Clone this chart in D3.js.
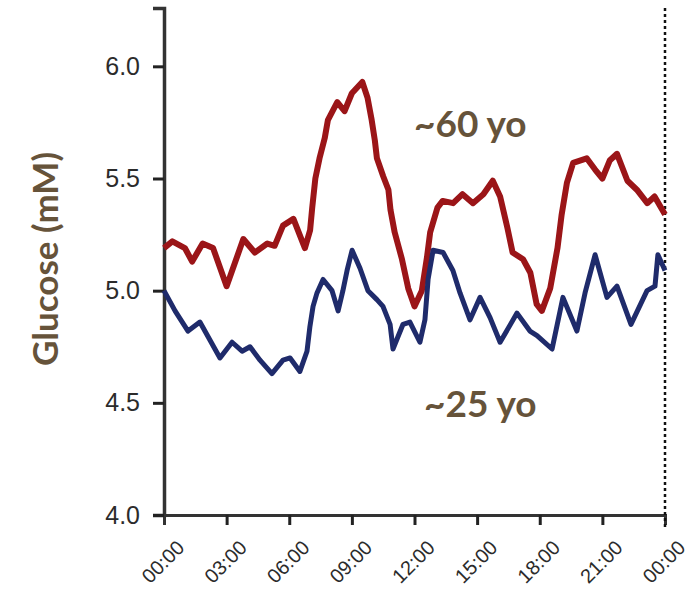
<!DOCTYPE html>
<html>
<head>
<meta charset="utf-8">
<script src="https://cdn.jsdelivr.net/npm/d3@7"></script>
<style>
  body { margin: 0; background: #fff; }
</style>
</head>
<body>
<svg id="chart"></svg>
<script>
const width = 689;
const height = 598;

// hours since midnight, glucose (mM)
const oldHours = [0, 0.4, 1.0, 1.35, 1.85, 2.35, 3.0, 3.8, 4.35, 4.95, 5.3, 5.7, 6.2, 6.75, 7.0, 7.1, 7.25, 7.45, 7.7, 7.85,
  8.3, 8.65, 9.0, 9.5, 9.75, 9.95, 10.1, 10.2, 10.5, 10.75, 10.85, 11.05, 11.4, 11.7, 12.0, 12.35, 12.6, 12.75, 13.1, 13.35,
  13.85, 14.3, 14.8, 15.3, 15.75, 16.1, 16.45, 16.7, 17.2, 17.55, 17.85, 18.1, 18.5, 18.85, 19.05, 19.3, 19.6, 20.25, 20.65, 21.0,
  21.35, 21.7, 22.2, 22.65, 23.15, 23.5, 24];
const oldGlucose = [5.19, 5.22, 5.19, 5.13, 5.21, 5.19, 5.02, 5.23, 5.17, 5.21, 5.20, 5.29, 5.32, 5.19, 5.27, 5.37, 5.50, 5.59, 5.68, 5.76,
  5.84, 5.80, 5.88, 5.93, 5.86, 5.76, 5.67, 5.59, 5.51, 5.45, 5.36, 5.26, 5.14, 5.01, 4.93, 5.00, 5.15, 5.26, 5.37, 5.40,
  5.39, 5.43, 5.39, 5.43, 5.49, 5.42, 5.28, 5.17, 5.14, 5.08, 4.94, 4.91, 5.01, 5.19, 5.34, 5.48, 5.57, 5.59, 5.54, 5.50,
  5.58, 5.61, 5.49, 5.45, 5.39, 5.42, 5.34];

const youngHours = [0, 0.53, 1.15, 1.72, 2.2, 2.68, 3.26, 3.74, 4.12, 4.6, 5.17, 5.7, 6.04, 6.51, 6.85, 6.99, 7.14, 7.33, 7.62, 8.05,
  8.34, 8.57, 8.77, 9.01, 9.39, 9.77, 10.2, 10.49, 10.83, 10.97, 11.45, 11.78, 12.26, 12.5, 12.65, 12.89, 13.37, 13.84, 14.18, 14.66,
  15.14, 15.62, 16.1, 16.91, 17.53, 17.87, 18.59, 19.11, 19.78, 20.17, 20.65, 21.22, 21.7, 22.37, 23.14, 23.52, 23.66, 24];
const youngGlucose = [5.00, 4.91, 4.82, 4.86, 4.78, 4.70, 4.77, 4.73, 4.75, 4.69, 4.63, 4.69, 4.70, 4.64, 4.73, 4.84, 4.93, 4.99, 5.05, 5.00,
  4.91, 5.00, 5.09, 5.18, 5.10, 5.00, 4.96, 4.93, 4.85, 4.74, 4.85, 4.86, 4.77, 4.87, 5.05, 5.18, 5.17, 5.09, 4.99, 4.87,
  4.97, 4.88, 4.77, 4.90, 4.82, 4.80, 4.74, 4.97, 4.82, 4.99, 5.16, 4.97, 5.02, 4.85, 5.00, 5.02, 5.16, 5.09];

const hourTicks = [0, 3, 6, 9, 12, 15, 18, 21, 24];
const hourLabels = ["00:00", "03:00", "06:00", "09:00", "12:00", "15:00", "18:00", "21:00", "00:00"];
const glucoseTicks = [4.0, 4.5, 5.0, 5.5, 6.0];

const brown = "#66533a";

const svg = d3.select("#chart")
    .attr("width", width)
    .attr("height", height);

const x = d3.scaleLinear().domain([0, 24]).range([164, 665]);
const y = d3.scaleLinear().domain([4, 6.26]).range([515, 8]);

// axes
const xAxis = svg.append("g")
    .attr("transform", "translate(0,515)")
    .call(d3.axisBottom(x).tickValues(hourTicks).tickSize(10).tickFormat((d, i) => hourLabels[i]));

xAxis.select(".domain").attr("stroke", "#333").attr("stroke-width", 3);
xAxis.selectAll(".tick line")
    .attr("stroke", "#222")
    .attr("stroke-width", 3)
    .attr("display", d => (d === 0 || d === 24) ? "none" : null);
xAxis.selectAll(".tick text")
    .attr("font-family", "Liberation Sans, Arial, sans-serif")
    .attr("font-size", 20)
    .attr("fill", "#2b2b2b")
    .attr("text-anchor", "end")
    .attr("dy", null)
    .attr("y", null)
    .attr("transform", "translate(21,34) rotate(-45)");

const yAxis = svg.append("g")
    .attr("transform", "translate(164,0)")
    .call(d3.axisLeft(y).tickValues(glucoseTicks).tickSize(11).tickPadding(13).tickFormat(d3.format(".1f")));

yAxis.select(".domain").attr("stroke", "#333").attr("stroke-width", 3.5);
yAxis.selectAll(".tick line").attr("stroke", "#222").attr("stroke-width", 3);
yAxis.selectAll(".tick text")
    .attr("font-family", "Liberation Sans, Arial, sans-serif")
    .attr("font-size", 25)
    .attr("fill", "#2b2b2b");

// dotted end-of-day marker
svg.append("line")
    .attr("x1", x(24)).attr("x2", x(24))
    .attr("y1", y(6.26)).attr("y2", y(4) + 12)
    .attr("stroke", "#111")
    .attr("stroke-width", 2.5)
    .attr("stroke-dasharray", "3,3");

const line = d3.line()
    .x(d => x(d[0]))
    .y(d => y(d[1]))
    .curve(d3.curveLinear);

svg.append("path")
    .datum(oldHours.map((h, i) => [h, oldGlucose[i]]))
    .attr("d", line)
    .attr("fill", "none")
    .attr("stroke", "#9b1518")
    .attr("stroke-width", 6)
    .attr("stroke-linejoin", "round");

svg.append("path")
    .datum(youngHours.map((h, i) => [h, youngGlucose[i]]))
    .attr("d", line)
    .attr("fill", "none")
    .attr("stroke", "#1f2b6b")
    .attr("stroke-width", 5)
    .attr("stroke-linejoin", "round");

// labels
svg.append("text")
    .attr("transform", "translate(58,259) rotate(-90)")
    .attr("text-anchor", "middle")
    .attr("font-family", "Lato, sans-serif")
    .attr("font-weight", "bold")
    .attr("font-size", 35)
    .attr("fill", brown)
    .text("Glucose (mM)");

svg.append("text")
    .attr("x", 414).attr("y", 137)
    .attr("font-family", "Lato, sans-serif")
    .attr("font-weight", "bold")
    .attr("font-size", 37)
    .attr("fill", brown)
    .text("~60 yo");

svg.append("text")
    .attr("x", 424).attr("y", 417)
    .attr("font-family", "Lato, sans-serif")
    .attr("font-weight", "bold")
    .attr("font-size", 37)
    .attr("fill", brown)
    .text("~25 yo");
</script>
</body>
</html>
